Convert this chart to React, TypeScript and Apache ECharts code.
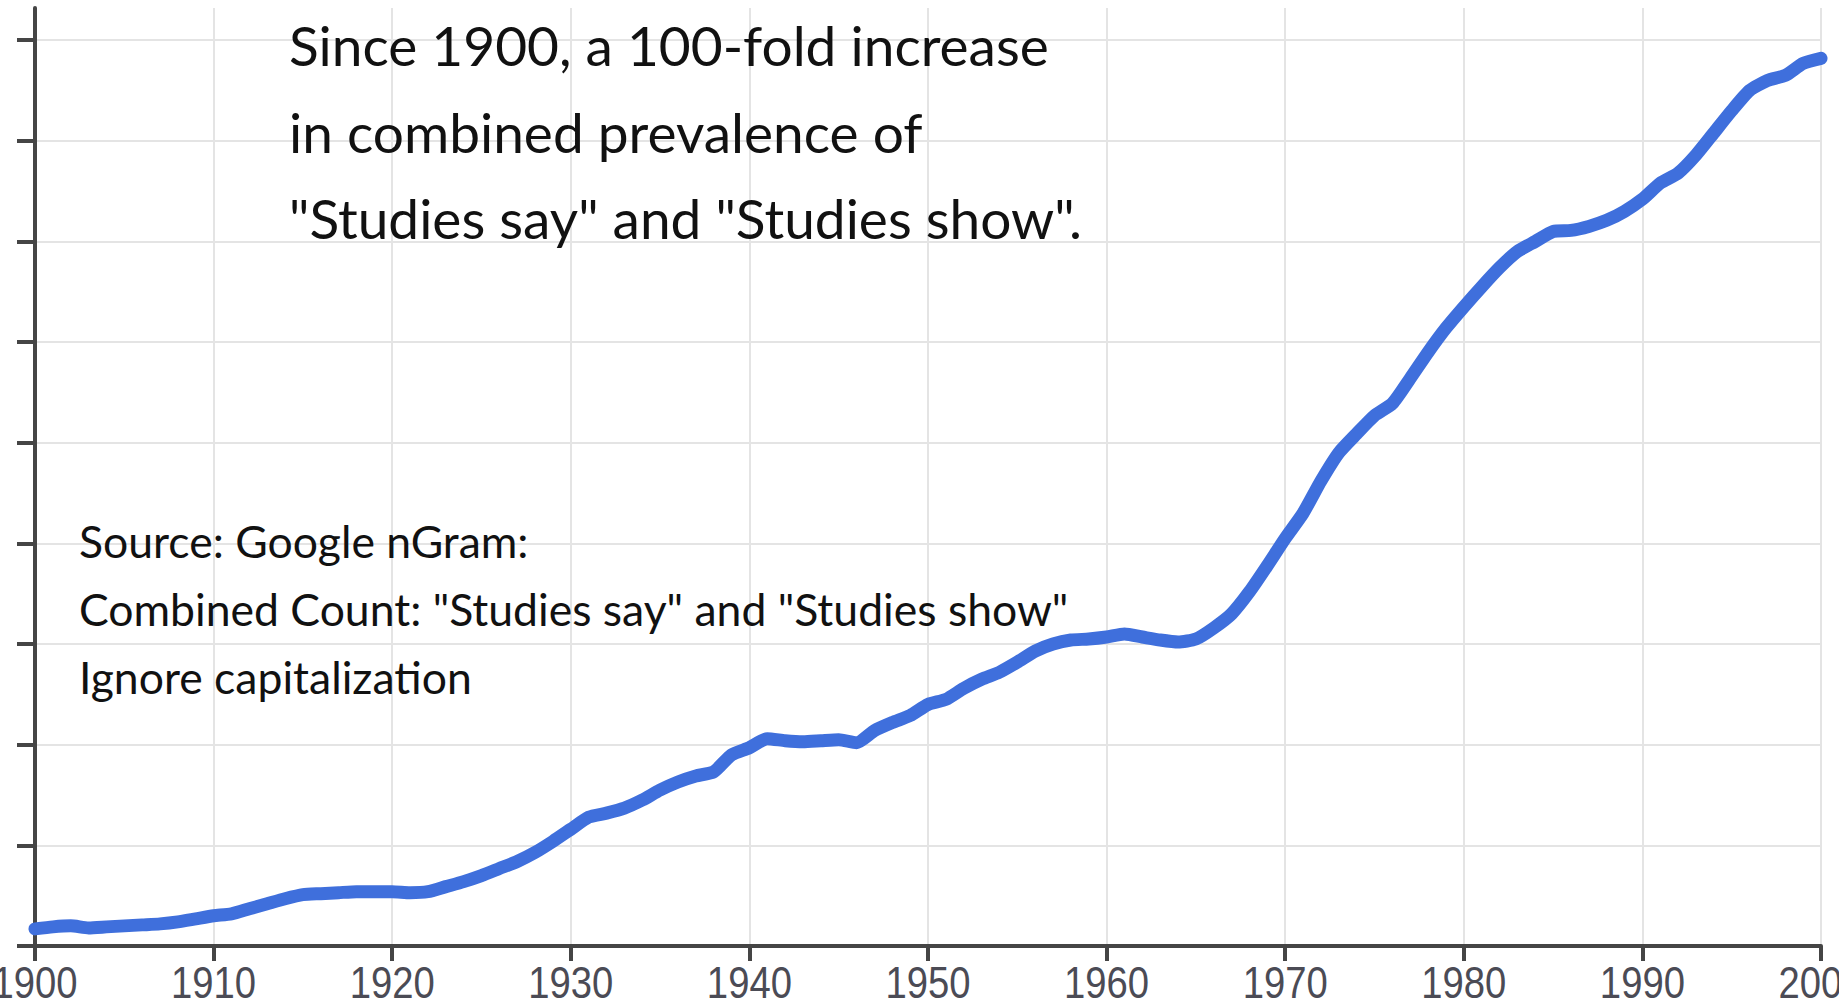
import React, { useEffect, useRef } from "react";
import * as echarts from "echarts";

// Years on the x axis
const years = [
  1900, 1901, 1902, 1903, 1904, 1905, 1906, 1907, 1908, 1909,
  1910, 1911, 1912, 1913, 1914, 1915, 1916, 1917, 1918, 1919,
  1920, 1921, 1922, 1923, 1924, 1925, 1926, 1927, 1928, 1929,
  1930, 1931, 1932, 1933, 1934, 1935, 1936, 1937, 1938, 1939,
  1940, 1941, 1942, 1943, 1944, 1945, 1946, 1947, 1948, 1949,
  1950, 1951, 1952, 1953, 1954, 1955, 1956, 1957, 1958, 1959,
  1960, 1961, 1962, 1963, 1964, 1965, 1966, 1967, 1968, 1969,
  1970, 1971, 1972, 1973, 1974, 1975, 1976, 1977, 1978, 1979,
  1980, 1981, 1982, 1983, 1984, 1985, 1986, 1987, 1988, 1989,
  1990, 1991, 1992, 1993, 1994, 1995, 1996, 1997, 1998, 1999,
  2000,
];

// Combined prevalence (in units of the chart's grid steps)
const prevalence = [
  0.17, 0.19, 0.2, 0.18, 0.19, 0.2, 0.21, 0.22, 0.24, 0.27,
  0.3, 0.32, 0.37, 0.42, 0.47, 0.51, 0.52, 0.53, 0.54, 0.54,
  0.54, 0.53, 0.54, 0.59, 0.64, 0.7, 0.77, 0.84, 0.93, 1.04,
  1.16, 1.28, 1.32, 1.37, 1.45, 1.55, 1.63, 1.69, 1.73, 1.9,
  1.97, 2.06, 2.04, 2.03, 2.04, 2.05, 2.02, 2.14, 2.22, 2.29,
  2.4, 2.45, 2.56, 2.65, 2.72, 2.82, 2.93, 3.0, 3.04, 3.05,
  3.07, 3.1, 3.07, 3.04, 3.02, 3.05, 3.16, 3.3, 3.52, 3.78,
  4.05, 4.3, 4.62, 4.9, 5.09, 5.27, 5.39, 5.64, 5.9, 6.14,
  6.35, 6.55, 6.74, 6.9, 7.0, 7.1, 7.11, 7.15, 7.21, 7.3,
  7.42, 7.58, 7.68, 7.86, 8.08, 8.3, 8.5, 8.6, 8.65, 8.77,
  8.82,
];

// Unlabelled y ticks
const yTicks = [0, 1, 2, 3, 4, 5, 6, 7, 8, 9];

// x tick labels
const xTicks = [1900, 1910, 1920, 1930, 1940, 1950, 1960, 1970, 1980, 1990, 2000];

const titleLines = [
  "Since 1900, a 100-fold increase",
  "in combined prevalence of",
  '"Studies say" and "Studies show".',
];

const sourceLines = [
  "Source: Google nGram:",
  'Combined Count: "Studies say" and "Studies show"',
  "Ignore capitalization",
];

const W = 1839;
const H = 1008;

export default function App() {
  const ref = useRef<HTMLDivElement | null>(null);

  useEffect(() => {
    if (!ref.current) return;
    const chart = echarts.init(ref.current, undefined, { renderer: "svg" });

    const gridColor = "#e4e4e4";
    const axisColor = "#454545";

    const titleGraphics = titleLines.map((t, i) => ({
      type: "text",
      id: "title" + i,
      x: 289,
      y: 45 + i * 86.5,
      z: 100,
      style: {
        text: t,
        fontFamily: "Lato, 'Open Sans', sans-serif",
        fontSize: 55,
        fill: "#111111",
        align: "left",
        verticalAlign: "middle",
      },
    }));

    const sourceGraphics = sourceLines.map((t, i) => ({
      type: "text",
      id: "source" + i,
      x: 79,
      y: 540 + i * 68,
      z: 100,
      style: {
        text: t,
        fontFamily: "Lato, 'Open Sans', sans-serif",
        fontSize: 44.5,
        fill: "#111111",
        align: "left",
        verticalAlign: "middle",
      },
    }));

    chart.setOption({
      animation: false,
      backgroundColor: "#ffffff",
      grid: {
        left: 35,
        right: 18,
        top: 8,
        bottom: 62,
        containLabel: false,
        outerBoundsMode: "none",
      },
      xAxis: {
        type: "value",
        min: 1900,
        max: 2000,
        interval: 10,
        axisLine: { show: true, onZero: false, lineStyle: { color: axisColor, width: 4 } },
        axisTick: { show: true, length: 15, lineStyle: { color: axisColor, width: 4 } },
        axisLabel: { show: false },
        splitLine: { show: true, lineStyle: { color: gridColor, width: 2 } },
      },
      yAxis: {
        type: "value",
        min: 0,
        max: 9.32,
        interval: 1,
        axisLine: { show: true, onZero: false, lineStyle: { color: axisColor, width: 4 } },
        axisTick: {
          show: true,
          length: 18,
          customValues: yTicks,
          lineStyle: { color: axisColor, width: 4 },
        },
        axisLabel: { show: false },
        splitLine: {
          show: true,
          lineStyle: {
            color: [
              gridColor, gridColor, gridColor, gridColor, gridColor,
              gridColor, gridColor, gridColor, gridColor, gridColor,
              "rgba(0,0,0,0)",
            ],
            width: 2,
          },
        },
      },
      series: [
        {
          type: "line",
          data: years.map((y, i) => [y, prevalence[i]]),
          symbol: "none",
          showSymbol: false,
          smooth: 0.2,
          lineStyle: { color: "#3f6fdc", width: 13, cap: "round", join: "round" },
          z: 3,
        },
      ],
      graphic: [...titleGraphics, ...sourceGraphics],
    });

    // Tick labels placed through the x axis scale, drawn horizontally condensed
    const labelGraphics = xTicks.map((v) => {
      const px = chart.convertToPixel({ xAxisIndex: 0 }, v) as number;
      return {
        type: "text",
        id: "xl" + v,
        x: px,
        y: 982,
        scaleX: 0.85,
        z: 100,
        style: {
          text: String(v),
          fontFamily: "'Liberation Sans', Arial, sans-serif",
          fontSize: 45,
          fill: "#4b4b55",
          align: "center",
          verticalAlign: "middle",
        },
      };
    });

    chart.setOption({ graphic: [...titleGraphics, ...sourceGraphics, ...labelGraphics] });

    return () => chart.dispose();
  }, []);

  return (
    <div
      ref={ref}
      style={{ position: "fixed", left: 0, top: 0, width: W, height: H, background: "#fff" }}
    />
  );
}
